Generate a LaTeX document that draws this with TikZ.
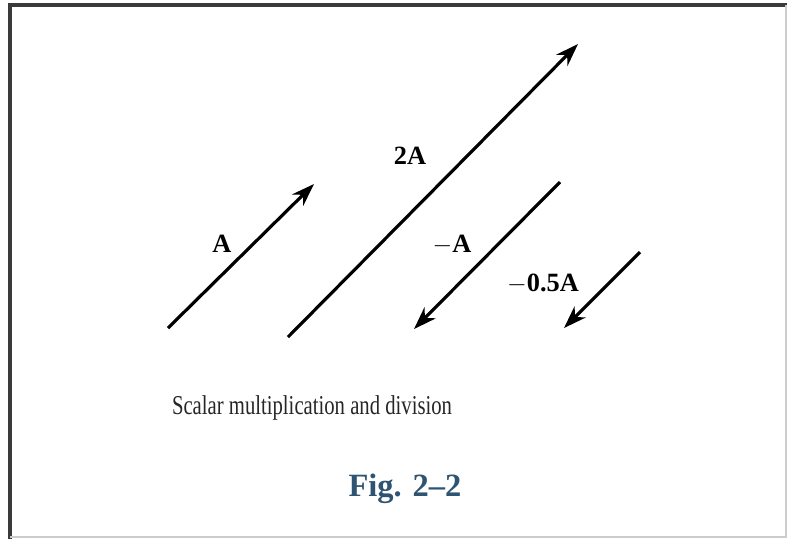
\documentclass[tikz,border=0pt]{standalone}
\usepackage{fontspec}
\setmainfont{Liberation Serif}
\usepackage{tikz}
\usepackage{xcolor}
\usetikzlibrary{arrows.meta, positioning, calc}
\definecolor{Fig_Blue}{HTML}{2E5472}
\definecolor{Frame_Gray}{HTML}{3A3A3A}

\begin{document}
\begin{tikzpicture}[
    x=0.02cm, y=-0.02cm,
    >=Stealth,
    vec/.style={draw=black, line width=1.8pt, ->, >={Stealth[length=13pt, width=9pt]}},
    lbl/.style={font=\fontsize{15}{17}\selectfont\bfseries, inner sep=1pt},
    caption/.style={font=\fontsize{15.5}{18}\selectfont, text=black!85},
    figno/.style={font=\fontsize{18.5}{21}\selectfont\bfseries, text=Fig_Blue}
]
\useasboundingbox (0,0) rectangle (787,539);

% frame
\draw[Frame_Gray, line width=2.4pt] (10,539) -- (10,5) -- (787,5);
\draw[black!20, line width=0.8pt] (786,5) -- (786,537) -- (10,537);

% vector end points
\coordinate (A0) at (168,328);
\coordinate (A1) at (314,184);
\coordinate (B0) at (288,337);
\coordinate (B1) at (578,44);
\coordinate (C0) at (560,182);
\coordinate (C1) at (414,329);
\coordinate (D0) at (640,252);
\coordinate (D1) at (564,328);

% vectors
\draw[vec] (A0) -- (A1);
\draw[vec] (B0) -- (B1);
\draw[vec] (C0) -- (C1);
\draw[vec] (D0) -- (D1);

% labels
\node[lbl] (lA) at (222,244) {A};
\node[lbl] (l2A) at (410,156) {2A};
\node[lbl] (lmA) at (452,245) {$-$A};
\node[lbl] (lhA) at (543,284) {$-$0.5A};

\node[caption] (cap) at (312,408) {\scalebox{0.76}[1]{Scalar multiplication and division}};
\node[figno] (fig) at (405,489) {Fig. 2--2};

\end{tikzpicture}
\end{document}
